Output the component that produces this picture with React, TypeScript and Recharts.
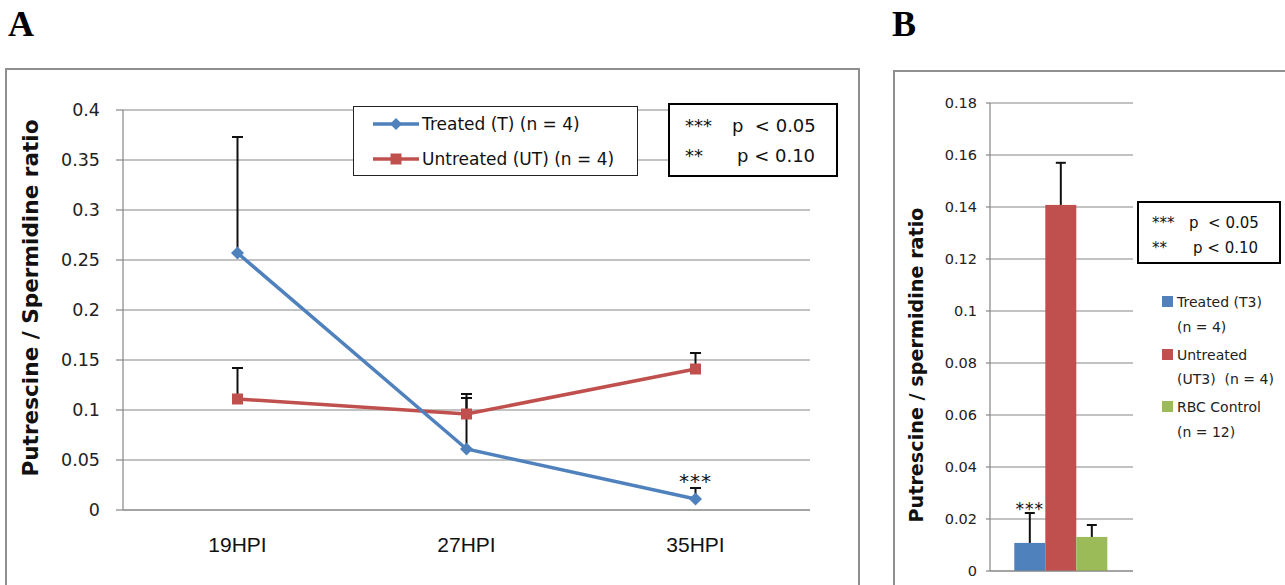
import React from "react";
import {
  Bar,
  BarChart,
  CartesianGrid,
  ErrorBar,
  LabelList,
  Line,
  LineChart,
  XAxis,
  YAxis
} from "recharts";

// panel A: time course
const timePoints = ["19HPI", "27HPI", "35HPI"];
const treatedMean = [0.257, 0.061, 0.011];
const treatedErr = [0.116, 0.055, 0.011];
const untreatedMean = [0.111, 0.096, 0.141];
const untreatedErr = [0.031, 0.016, 0.016];
const treatedSig = ["", "", "***"];
const ticksA = [0, 0.05, 0.1, 0.15, 0.2, 0.25, 0.3, 0.35, 0.4];

// panel B: 35HPI comparison
const groupKeys = ["t3", "ut3", "rbc"];
const groupNames = ["Treated (T3) (n = 4)", "Untreated (UT3)  (n = 4)", "RBC Control (n = 12)"];
const groupLegend = [
  ["Treated (T3)", "(n = 4)"],
  ["Untreated", "(UT3)  (n = 4)"],
  ["RBC Control", "(n = 12)"]
];
const ratioMean = [0.0108, 0.1408, 0.0131];
const ratioErr = [0.0115, 0.0162, 0.0046];
const groupSig = ["***", "", ""];
const ticksB = [0, 0.02, 0.04, 0.06, 0.08, 0.1, 0.12, 0.14, 0.16, 0.18];

const BLUE = "#4F81BD";
const RED = "#C0504D";
const GREEN = "#9BBB59";
const groupColors = [BLUE, RED, GREEN];
const GRID = "#868686";
const ARIAL = "'Liberation Sans', Arial, sans-serif";
const WIDE = "'DejaVu Sans', Verdana, sans-serif";

const lineData = timePoints.map((name, i) => ({
  name,
  treated: treatedMean[i],
  treatedRange: [0, treatedErr[i]],
  treatedTop: treatedMean[i] + treatedErr[i],
  untreated: untreatedMean[i],
  untreatedRange: [0, untreatedErr[i]],
  untreatedTop: untreatedMean[i] + untreatedErr[i],
  sig: treatedSig[i]
}));

const barRow: Record<string, any> = { name: "" };
groupKeys.forEach((k, i) => {
  barRow[k] = ratioMean[i];
  barRow[k + "Sig"] = groupSig[i];
});
const barData = [barRow];

function Diamond(props: any) {
  const { cx, cy, index } = props;
  const r = 6.5;
  return (
    <path
      key={`dm-${index}`}
      d={`M${cx},${cy - r} L${cx + r},${cy} L${cx},${cy + r} L${cx - r},${cy} Z`}
      fill={BLUE}
    />
  );
}

function Square(props: any) {
  const { cx, cy, index } = props;
  const s = 11;
  return <rect key={`sq-${index}`} x={cx - s / 2} y={cy - s / 2} width={s} height={s} fill={RED} />;
}

// top cap of an upper-only error bar
function Cap(props: any) {
  const { cx, cy, index } = props;
  return <line key={`cap-${index}`} x1={cx - 5.5} y1={cy} x2={cx + 5.5} y2={cy} stroke="#111" strokeWidth={2} />;
}

// bar with an upper-only whisker, scaled off the bar's own pixel height
function barWithError(key: string, err: number) {
  return (p: any) => {
    const { x, y, width, height, fill, payload } = p;
    const v = payload[key];
    const top = y - (err * height) / v;
    const cx = x + width / 2;
    return (
      <g>
        <rect x={x} y={y} width={width} height={height} fill={fill} />
        <line x1={cx} y1={y} x2={cx} y2={top} stroke="#111" strokeWidth={2} />
        <line x1={cx - 5} y1={top} x2={cx + 5} y2={top} stroke="#111" strokeWidth={2} />
      </g>
    );
  };
}

function SigLabel({ dy, size }: { dy: number; size: number }) {
  return (p: any) => {
    if (!p.value) return null;
    const cx = p.width ? p.x + p.width / 2 : p.x;
    return (
      <text x={cx} y={p.y - dy} textAnchor="middle" fontFamily={WIDE} fontSize={size} letterSpacing={1} fill="#111">
        {p.value}
      </text>
    );
  };
}

function StatsBox({ left, top, width, height, size, rows }: any) {
  return (
    <div
      style={{
        position: "absolute",
        left,
        top,
        width,
        height,
        boxSizing: "border-box",
        border: "2px solid #000",
        background: "#fff",
        fontFamily: WIDE,
        fontSize: size,
        color: "#111"
      }}
    >
      {rows.map((r: any, i: number) => (
        <div key={i} style={{ position: "absolute", left: 0, top: r.top, whiteSpace: "pre" }}>
          <span style={{ position: "absolute", left: r.starX }}>{r.stars}</span>
          <span style={{ position: "absolute", left: r.textX }}>{r.text}</span>
        </div>
      ))}
    </div>
  );
}

function PanelA() {
  return (
    <>
      <div
        style={{
          position: "absolute",
          left: 5,
          top: 68,
          width: 855,
          height: 600,
          border: "2px solid #8f8f8f",
          boxSizing: "border-box"
        }}
      />
      <div style={{ position: "absolute", left: 0, top: 68 }}>
        <LineChart width={860} height={517} data={lineData} margin={{ top: 42, right: 50, bottom: 0, left: 0 }}>
          <CartesianGrid vertical={false} stroke={GRID} strokeWidth={1.2} />
          <XAxis
            dataKey="name"
            padding={{ left: 114.5, right: 114.5 }}
            height={75}
            tickLine={false}
            tickSize={0}
            tickMargin={27}
            axisLine={{ stroke: GRID, strokeWidth: 1.2 }}
            tick={{ fill: "#111", fontSize: 21, fontFamily: ARIAL }}
          />
          <YAxis
            width={123}
            domain={[0, 0.4]}
            ticks={ticksA}
            interval={0}
            tickSize={7}
            tickMargin={16}
            tickLine={{ stroke: GRID, strokeWidth: 1.2 }}
            axisLine={{ stroke: GRID, strokeWidth: 1.2 }}
            tick={{ fill: "#222", fontSize: 17.5, fontFamily: WIDE }}
          />
          {/* whiskers and caps first so the markers sit on top */}
          <Line dataKey="untreated" stroke="none" dot={false} activeDot={false} isAnimationActive={false}>
            <ErrorBar dataKey="untreatedRange" width={0} stroke="#111" strokeWidth={2} isAnimationActive={false} />
          </Line>
          <Line dataKey="treated" stroke="none" dot={false} activeDot={false} isAnimationActive={false}>
            <ErrorBar dataKey="treatedRange" width={0} stroke="#111" strokeWidth={2} isAnimationActive={false} />
          </Line>
          <Line dataKey="untreatedTop" stroke="none" dot={Cap} activeDot={false} isAnimationActive={false} />
          <Line dataKey="treatedTop" stroke="none" dot={Cap} activeDot={false} isAnimationActive={false} />
          <Line
            dataKey="untreated"
            stroke={RED}
            strokeWidth={3.5}
            dot={Square}
            activeDot={false}
            isAnimationActive={false}
          />
          <Line
            dataKey="treated"
            stroke={BLUE}
            strokeWidth={3.5}
            dot={Diamond}
            activeDot={false}
            isAnimationActive={false}
          >
            <LabelList dataKey="sig" content={SigLabel({ dy: 11, size: 20 })} />
          </Line>
        </LineChart>
      </div>
      <div
        style={{
          position: "absolute",
          left: 30,
          top: 298,
          height: 0,
          fontFamily: WIDE,
          fontSize: 21.6,
          fontWeight: "bold",
          color: "#111"
        }}
      >
        <div
          style={{
            position: "absolute",
            left: 0,
            top: 0,
            whiteSpace: "nowrap",
            transform: "translate(-50%, -50%) rotate(-90deg)"
          }}
        >
          Putrescine / Spermidine ratio
        </div>
      </div>
      {/* legend */}
      <div
        style={{
          position: "absolute",
          left: 353,
          top: 106,
          width: 285,
          height: 70,
          boxSizing: "border-box",
          border: "1px solid #222",
          background: "#fff",
          fontFamily: WIDE,
          fontSize: 17,
          color: "#111"
        }}
      >
        {[
          { label: "Treated (T) (n = 4)", color: BLUE, marker: "diamond" },
          { label: "Untreated (UT) (n = 4)", color: RED, marker: "square" }
        ].map((it, i) => (
          <div key={i} style={{ position: "absolute", left: 18, top: 5 + i * 35, height: 24, display: "flex", alignItems: "center" }}>
            <svg width={48} height={14}>
              <line x1={1} y1={7} x2={47} y2={7} stroke={it.color} strokeWidth={3.5} />
              {it.marker === "diamond" ? (
                <path d="M24,1 L30,7 L24,13 L18,7 Z" fill={it.color} />
              ) : (
                <rect x={18.5} y={1.5} width={11} height={11} fill={it.color} />
              )}
            </svg>
            <span style={{ marginLeft: 2, whiteSpace: "nowrap" }}>{it.label}</span>
          </div>
        ))}
      </div>
      <StatsBox
        left={668}
        top={103}
        width={170}
        height={74}
        size={18}
        rows={[
          { top: 10, starX: 15, stars: "***", textX: 62, text: "p  < 0.05" },
          { top: 40, starX: 15, stars: "**", textX: 67, text: "p < 0.10" }
        ]}
      />
    </>
  );
}

function PanelB() {
  return (
    <>
      <div
        style={{
          position: "absolute",
          left: 893,
          top: 70,
          width: 420,
          height: 600,
          border: "2px solid #8f8f8f",
          boxSizing: "border-box"
        }}
      />
      <div style={{ position: "absolute", left: 880, top: 70 }}>
        <BarChart
          width={405}
          height={515}
          data={barData}
          margin={{ top: 33, right: 152, bottom: 0, left: 0 }}
          barCategoryGap="17%"
          barGap={0}
        >
          <CartesianGrid vertical={false} stroke={GRID} strokeWidth={1.2} />
          <XAxis
            dataKey="name"
            height={14}
            tick={false}
            tickLine={false}
            axisLine={{ stroke: GRID, strokeWidth: 1.2 }}
          />
          <YAxis
            width={110}
            domain={[0, 0.18]}
            ticks={ticksB}
            interval={0}
            tickSize={4}
            tickMargin={9}
            tickLine={{ stroke: GRID, strokeWidth: 1.2 }}
            axisLine={{ stroke: GRID, strokeWidth: 1.2 }}
            tick={{ fill: "#222", fontSize: 14.5, fontFamily: WIDE }}
          />
          {groupKeys.map((k, i) => (
            <Bar
              key={k}
              dataKey={k}
              name={groupNames[i]}
              fill={groupColors[i]}
              shape={barWithError(k, ratioErr[i])}
              isAnimationActive={false}
            >
              <LabelList dataKey={k + "Sig"} content={SigLabel({ dy: 28, size: 17 })} />
            </Bar>
          ))}
        </BarChart>
      </div>
      <div
        style={{
          position: "absolute",
          left: 916,
          top: 365,
          height: 0,
          fontFamily: WIDE,
          fontSize: 19.2,
          fontWeight: "bold",
          color: "#111"
        }}
      >
        <div
          style={{
            position: "absolute",
            left: 0,
            top: 0,
            whiteSpace: "nowrap",
            transform: "translate(-50%, -50%) rotate(-90deg)"
          }}
        >
          Putrescine / spermidine ratio
        </div>
      </div>
      <StatsBox
        left={1137}
        top={201}
        width={144}
        height={63}
        size={15}
        rows={[
          { top: 11, starX: 13, stars: "***", textX: 50, text: "p  < 0.05" },
          { top: 36, starX: 13, stars: "**", textX: 54, text: "p < 0.10" }
        ]}
      />
      {groupLegend.map((lines, i) => (
        <div
          key={i}
          style={{
            position: "absolute",
            left: 1162,
            top: 290 + i * 52.5,
            fontFamily: WIDE,
            fontSize: 14,
            lineHeight: "24.5px",
            color: "#222"
          }}
        >
          <div style={{ position: "absolute", left: 0, top: 6, width: 11, height: 11, background: groupColors[i] }} />
          <div style={{ position: "absolute", left: 15, top: 0, whiteSpace: "pre" }}>
            {lines[0]}
            <br />
            {lines[1]}
          </div>
        </div>
      ))}
    </>
  );
}

export default function App() {
  return (
    <div
      style={{
        position: "absolute",
        left: 0,
        top: 0,
        width: 1285,
        height: 585,
        overflow: "hidden",
        background: "#fff"
      }}
    >
      <div
        style={{
          position: "absolute",
          left: 8,
          top: 3,
          fontFamily: "'Liberation Serif', 'Times New Roman', serif",
          fontWeight: "bold",
          fontSize: 36
        }}
      >
        A
      </div>
      <div
        style={{
          position: "absolute",
          left: 892,
          top: 3,
          fontFamily: "'Liberation Serif', 'Times New Roman', serif",
          fontWeight: "bold",
          fontSize: 36
        }}
      >
        B
      </div>
      <PanelA />
      <PanelB />
    </div>
  );
}
